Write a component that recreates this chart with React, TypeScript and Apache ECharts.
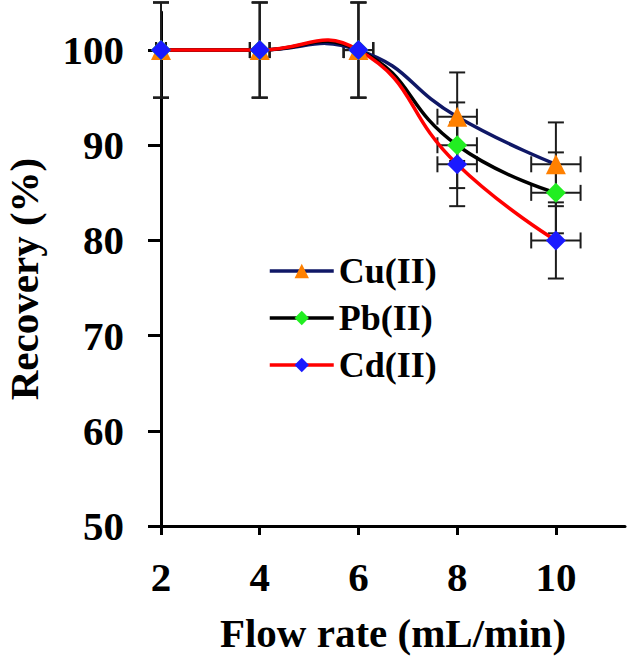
import React, { useEffect, useRef } from "react";
import * as echarts from "echarts";

const flowRates = [2, 4, 6, 8, 10];
const cuRecovery = [100, 100, 100, 93, 88];
const pbRecovery = [100, 100, 100, 90, 85];
const cdRecovery = [100, 100, 100, 88, 80];
const cuYErr = [5, 5, 5, 4.65, 4.4];
const pbYErr = [5, 5, 5, 4.5, 4.25];
const cdYErr = [5, 5, 5, 4.4, 4.0];
const flowErr = [0.1, 0.2, 0.3, 0.4, 0.5];
const seriesNames = ["Cu(II)", "Pb(II)", "Cd(II)"];
const xTickValues = [2, 4, 6, 8, 10];
const yTickValues = [50, 60, 70, 80, 90, 100];

const FONT = '"Liberation Serif", "Times New Roman", serif';

function errorRows(ys: number[], yErr: number[]) {
  return flowRates.map((x, i) => [x, ys[i], flowErr[i], yErr[i]]);
}

function renderErr(params: any, api: any) {
  const x = api.value(0);
  const y = api.value(1);
  const ex = api.value(2);
  const ey = api.value(3);
  const top = api.coord([x, y + ey]);
  const bot = api.coord([x, y - ey]);
  const left = api.coord([x - ex, y]);
  const right = api.coord([x + ex, y]);
  const cap = 8;
  const style = { stroke: "#1c1c1c", lineWidth: 2 };
  const ln = (x1: number, y1: number, x2: number, y2: number) => ({
    type: "line",
    shape: { x1, y1, x2, y2 },
    style,
  });
  return {
    type: "group",
    children: [
      ln(top[0], top[1], bot[0], bot[1]),
      ln(top[0] - cap, top[1], top[0] + cap, top[1]),
      ln(bot[0] - cap, bot[1], bot[0] + cap, bot[1]),
      ln(left[0], left[1], right[0], right[1]),
      ln(left[0], left[1] - cap, left[0], left[1] + cap),
      ln(right[0], right[1] - cap, right[0], right[1] + cap),
    ],
  };
}

function makeCurveRenderer(color: string) {
  return (params: any, api: any) => {
    if (params.dataIndexInside !== 0) return;
    const pts: number[][] = [];
    for (let k = 0; k < params.dataInsideLength; k++) {
      pts.push(api.coord([api.value(0, k), api.value(1, k)]));
    }
    return {
      type: "polyline",
      shape: { points: pts, smooth: 0.5 },
      style: { stroke: color, lineWidth: 3.5, fill: null },
    };
  };
}

export default function App() {
  const ref = useRef<HTMLDivElement>(null);
  useEffect(() => {
    if (!ref.current) return;
    const chart = echarts.init(ref.current, undefined, { renderer: "svg" });
    const lineColors = ["#0f1766", "#000000", "#ff0000"];
    const markerColors = ["#ff8000", "#22ee22", "#1a1aff"];
    const symbols = ["triangle", "diamond", "diamond"];
    const values = [cuRecovery, pbRecovery, cdRecovery];
    const errs = [cuYErr, pbYErr, cdYErr];
    const curveSeries = seriesNames.map((name, i) => ({
      type: "custom",
      name: name + " curve",
      data: flowRates.map((x, j) => [x, values[i][j]]),
      encode: { x: 0, y: 1 },
      renderItem: makeCurveRenderer(lineColors[i]),
      clip: false,
      z: 3 + i,
    }));
    const markerSeries = seriesNames.map((name, i) => ({
      name,
      type: "line",
      data: flowRates.map((x, j) => [x, values[i][j]]),
      symbol: symbols[i],
      symbolSize: 20,
      lineStyle: { color: lineColors[i], width: 3.5, opacity: 0 },
      itemStyle: { color: markerColors[i] },
      z: 10 + i,
      clip: false,
    }));
    const errSeries = seriesNames.map((name, i) => ({
      type: "custom",
      name: name + " error",
      data: errorRows(values[i], errs[i]),
      encode: { x: 0, y: 1 },
      renderItem: renderErr,
      clip: false,
      z: 2,
    }));
    chart.setOption({
      animation: false,
      backgroundColor: "#ffffff",
      grid: {
        left: 161,
        right: 5,
        top: 12,
        bottom: 133,
        containLabel: false,
        outerBoundsMode: "none",
      },
      legend: {
        data: seriesNames.map((name, i) => ({
          name,
          lineStyle: { color: lineColors[i], width: 3.5, opacity: 1 },
        })),
        orient: "vertical",
        left: 268,
        top: 253,
        padding: 0,
        itemWidth: 64,
        itemHeight: 18,
        itemGap: 11,
        textStyle: {
          fontFamily: FONT,
          fontSize: 36,
          fontWeight: "bold",
          color: "#000",
          lineHeight: 36,
        },
      },
      xAxis: {
        type: "value",
        min: 2,
        max: 11.4,
        interval: 2,
        name: "Flow rate (mL/min)",
        nameLocation: "middle",
        nameGap: 86,
        nameTextStyle: { fontFamily: FONT, fontSize: 41, fontWeight: "bold", color: "#000" },
        axisLine: { lineStyle: { color: "#000", width: 3 } },
        axisTick: { length: 9, lineStyle: { color: "#000", width: 3 }, customValues: xTickValues },
        axisLabel: {
          fontFamily: FONT,
          fontSize: 41,
          fontWeight: "bold",
          color: "#000",
          margin: 30,
          customValues: xTickValues,
        },
        splitLine: { show: false },
      },
      yAxis: {
        type: "value",
        min: 50,
        max: 104,
        interval: 10,
        name: "Recovery (%)",
        nameLocation: "middle",
        nameGap: 117,
        nameTextStyle: {
          fontFamily: FONT,
          fontSize: 41,
          lineHeight: 41,
          fontWeight: "bold",
          color: "#000",
          padding: [0, 20, 0, 0],
        },
        axisLine: { lineStyle: { color: "#000", width: 3 } },
        axisTick: { length: 13, lineStyle: { color: "#000", width: 3 }, customValues: yTickValues },
        axisLabel: {
          fontFamily: FONT,
          fontSize: 41,
          fontWeight: "bold",
          color: "#000",
          margin: 37,
          customValues: yTickValues,
        },
        splitLine: { show: false },
      },
      series: [...errSeries, ...curveSeries, ...markerSeries],
    });
    return () => chart.dispose();
  }, []);
  return (
    <div
      ref={ref}
      style={{ position: "fixed", left: 0, top: 0, width: 630, height: 659, background: "#fff" }}
    />
  );
}
